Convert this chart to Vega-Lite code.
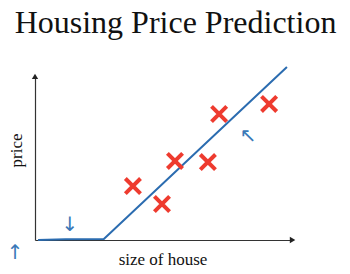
{
  "$schema": "https://vega.github.io/schema/vega-lite/v6.json",
  "width": 255,
  "height": 162,
  "autosize": "none",
  "padding": {"left": 35, "top": 78, "right": 60, "bottom": 34},
  "background": "white",
  "title": {"text": "Housing Price Prediction", "font": "Liberation Serif", "fontSize": 32, "fontWeight": "normal", "color": "#111", "anchor": "middle", "frame": "group", "offset": 23, "dx": 13},
  "config": {"view": {"stroke": null}},
  "datasets": {
    "fit": [
      {"size": 1.2, "price": 0},
      {"size": 12, "price": 0.4},
      {"size": 27, "price": 0.6},
      {"size": 98.8, "price": 106.8}
    ],
    "houses": [
      {"size": 38.4, "price": 33.3},
      {"size": 49.8, "price": 22.2},
      {"size": 54.9, "price": 48.8},
      {"size": 67.8, "price": 48.1},
      {"size": 72.2, "price": 77.8},
      {"size": 91.8, "price": 84.0}
    ],
    "arrows": [
      {"size": 0, "price": 101, "shape": "triangle-up"},
      {"size": 101, "price": 0, "shape": "triangle-right"}
    ],
    "notes": [
      {"size": 13.7, "price": 9, "label": "↓"},
      {"size": -7.8, "price": -8, "label": "↑"},
      {"size": 83.5, "price": 64, "label": "↖"}
    ]
  },
  "layer": [
    {
      "data": {"name": "fit"},
      "mark": {"type": "line", "color": "#2b6cb0", "strokeWidth": 2, "clip": false},
      "encoding": {
        "x": {"field": "size", "type": "quantitative", "scale": {"domain": [0, 100], "nice": false, "zero": false},
          "axis": {"title": "size of house", "titleFont": "Liberation Serif", "titleFontSize": 17, "titleFontWeight": "normal", "titleColor": "#111", "titlePadding": 11, "domainColor": "#333", "domainWidth": 1.2, "ticks": false, "labels": false, "grid": false}},
        "y": {"field": "price", "type": "quantitative", "scale": {"domain": [0, 100], "nice": false, "zero": false},
          "axis": {"title": "price", "titleFont": "Liberation Serif", "titleFontSize": 17, "titleFontWeight": "normal", "titleColor": "#111", "titlePadding": 10, "titleY": 72, "domainColor": "#333", "domainWidth": 1.2, "ticks": false, "labels": false, "grid": false}},
        "order": {"field": "size", "type": "quantitative"}
      }
    },
    {
      "data": {"name": "houses"},
      "mark": {"type": "point", "shape": "M-1,-1L1,1M1,-1L-1,1", "filled": false, "stroke": "#ee3b2f", "strokeWidth": 4, "size": 230, "opacity": 1, "clip": false},
      "encoding": {
        "x": {"field": "size", "type": "quantitative"},
        "y": {"field": "price", "type": "quantitative"}
      }
    },
    {
      "data": {"name": "arrows"},
      "mark": {"type": "point", "filled": true, "color": "#222", "size": 40, "opacity": 1, "clip": false},
      "encoding": {
        "x": {"field": "size", "type": "quantitative"},
        "y": {"field": "price", "type": "quantitative"},
        "shape": {"field": "shape", "type": "nominal", "scale": null}
      }
    },
    {
      "data": {"name": "notes"},
      "mark": {"type": "text", "color": "#3a78b8", "fontSize": 20, "font": "DejaVu Sans", "clip": false},
      "encoding": {
        "x": {"field": "size", "type": "quantitative"},
        "y": {"field": "price", "type": "quantitative"},
        "text": {"field": "label"}
      }
    }
  ]
}
